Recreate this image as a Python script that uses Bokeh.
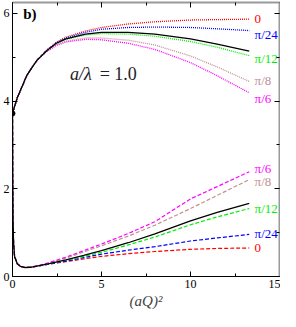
from bokeh.plotting import figure
from bokeh.models import Range1d, LinearAxis, SingleIntervalTicker, CustomJSTickFormatter
from bokeh.core.properties import value
from bokeh.embed import file_html
from bokeh.resources import INLINE

# ---------------- data ----------------
x_up = [0, 0.27, 0.82, 1.37, 1.92, 2.46, 3.0, 4.1, 5.0, 6.5, 8.0, 10.0, 11.5, 13.3]
up_red     = [3.72, 4.08, 4.60, 4.93, 5.16, 5.34, 5.46, 5.60, 5.68, 5.76, 5.81, 5.85, 5.86, 5.87]
up_blue    = [3.72, 4.08, 4.60, 4.93, 5.16, 5.33, 5.44, 5.57, 5.64, 5.68, 5.69, 5.68, 5.65, 5.61]
up_black   = [3.72, 4.08, 4.60, 4.93, 5.15, 5.32, 5.42, 5.53, 5.57, 5.57, 5.53, 5.42, 5.30, 5.14]
up_green   = [3.72, 4.08, 4.60, 4.93, 5.15, 5.31, 5.41, 5.51, 5.54, 5.53, 5.48, 5.36, 5.23, 5.04]
up_brown   = [3.72, 4.08, 4.60, 4.93, 5.14, 5.29, 5.37, 5.44, 5.44, 5.39, 5.28, 5.03, 4.78, 4.45]
up_magenta = [3.72, 4.08, 4.60, 4.93, 5.13, 5.27, 5.35, 5.41, 5.40, 5.32, 5.18, 4.88, 4.58, 4.19]

x_lo = [0, 0.01, 0.03, 0.06, 0.12, 0.27, 0.45, 0.7, 1.0, 1.5, 2.0, 3.0, 4.0, 5.0, 6.5, 8.0, 10.0, 11.5, 13.3]
lo_head = [3.72, 2.4, 1.3, 0.75, 0.45, 0.29, 0.23, 0.205]
lo_red     = lo_head + [0.21, 0.24, 0.28, 0.34, 0.40, 0.46, 0.52, 0.57, 0.62, 0.64, 0.65]
lo_blue    = lo_head + [0.21, 0.24, 0.28, 0.35, 0.43, 0.51, 0.60, 0.68, 0.81, 0.88, 0.96]
lo_green   = lo_head + [0.21, 0.245, 0.29, 0.37, 0.46, 0.55, 0.72, 0.90, 1.18, 1.36, 1.55]
lo_black   = lo_head + [0.21, 0.25, 0.29, 0.38, 0.48, 0.59, 0.77, 0.97, 1.27, 1.46, 1.67]
lo_brown   = lo_head + [0.21, 0.25, 0.30, 0.42, 0.56, 0.70, 0.92, 1.17, 1.55, 1.85, 2.21]
lo_magenta = lo_head + [0.21, 0.25, 0.31, 0.44, 0.59, 0.74, 0.98, 1.25, 1.77, 2.05, 2.39]

start_point = (0.0, 3.72)

angle_labels = ["0", "π/24", "π/12", "π/8", "π/6"]
angle_colors = ["#ff0000", "#0000ff", "#00ee00", "#c09090", "#ff00ff"]
label_x = 13.6
label_y_up = [5.87, 5.52, 4.97, 4.46, 4.06]
label_y_lo = [0.64, 0.99, 1.55, 2.16, 2.47]

SERIF = "Liberation Serif"

p = figure(width=280, height=311, output_backend="svg", toolbar_location=None,
           x_range=Range1d(0, 15), y_range=Range1d(0, 6.25),
           min_border_left=12, min_border_right=1, min_border_top=2, min_border_bottom=34)
p.xgrid.visible = False
p.ygrid.visible = False
p.outline_line_color = None
p.background_fill_color = "white"

def style_axis(ax, ticker_interval, labels=True, color="black", width=1):
    ax.ticker = SingleIntervalTicker(interval=ticker_interval, num_minor_ticks=2)
    ax.major_tick_in = 5
    ax.major_tick_out = 0
    ax.minor_tick_in = 3
    ax.minor_tick_out = 0
    ax.axis_line_color = color
    ax.axis_line_width = width
    ax.major_tick_line_color = "black"
    ax.minor_tick_line_color = "black"
    if labels:
        ax.major_label_text_font = SERIF
        ax.major_label_text_font_size = "12px"
        ax.major_label_text_color = "black"
        ax.major_label_standoff = 3
    else:
        ax.formatter = CustomJSTickFormatter(code="return ''")
        ax.major_label_standoff = 0

style_axis(p.xaxis[0], 5)
style_axis(p.yaxis[0], 2)
p.xaxis[0].axis_label = "(aQ)²"
p.xaxis[0].axis_label_text_font = SERIF
p.xaxis[0].axis_label_text_font_style = "italic"
p.xaxis[0].axis_label_text_font_size = "15px"
p.xaxis[0].axis_label_standoff = 2

top_ax = LinearAxis()
style_axis(top_ax, 5, labels=False, color="#999999", width=2)
p.add_layout(top_ax, "above")
right_ax = LinearAxis()
style_axis(right_ax, 2, labels=False, color="#999999", width=2)
p.add_layout(right_ax, "right")

up_series = [up_red, up_blue, up_green, up_brown, up_magenta]
lo_series = [lo_red, lo_blue, lo_green, lo_brown, lo_magenta]

for ys, c in zip(lo_series, angle_colors):
    p.line(x_lo, ys, line_color=c, line_width=1.2, line_dash="4 2")
p.line(x_lo, lo_black, line_color="black", line_width=1.3)

for ys, c in zip(up_series, angle_colors):
    p.line(x_up, ys, line_color=c, line_width=1.3, line_dash="1 1")
p.line(x_up, up_black, line_color="black", line_width=1.3)

p.scatter([start_point[0]], [start_point[1]], size=5, color="black")

for lab, c, yv in zip(angle_labels, angle_colors, label_y_up):
    p.text([label_x], [yv], text=[lab], text_color=c, text_font=value(SERIF),
           text_font_size="13px", text_baseline="middle", text_align="left")
for lab, c, yv in zip(angle_labels, angle_colors, label_y_lo):
    p.text([label_x], [yv], text=[lab], text_color=c, text_font=value(SERIF),
           text_font_size="13px", text_baseline="middle", text_align="left")

p.text([3.23], [4.61], text=["a/λ"], text_color="#222222", text_font=value(SERIF),
       text_font_style="italic", text_font_size="18px", text_baseline="middle")
p.text([4.9], [4.61], text=["= 1.0"], text_color="#222222", text_font=value(SERIF),
       text_font_size="18px", text_baseline="middle")
p.text([0.6], [5.98], text=["b)"], text_color="black", text_font=value(SERIF),
       text_font_style="bold", text_font_size="15px", text_baseline="middle")

open("out.html", "w").write(file_html(p, INLINE))
